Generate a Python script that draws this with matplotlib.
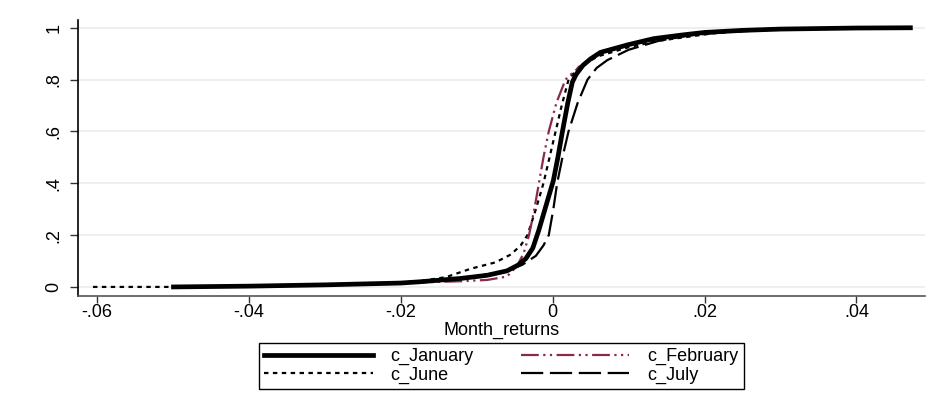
import numpy as np
import matplotlib
matplotlib.use("Agg")
import matplotlib.pyplot as plt

plt.rcParams['font.family'] = ['Liberation Sans', 'DejaVu Sans']

# cumulative shares
jan_x = [-0.0499, -0.040, -0.030, -0.020, -0.0174, -0.012, -0.0086, -0.0060, -0.0045, -0.0035, -0.0026, -0.0018, -0.0009, 0.0001, 0.0007, 0.0013, 0.0020, 0.0026, 0.0031, 0.0040, 0.0050, 0.0063, 0.0100, 0.0133, 0.0170, 0.0200, 0.0250, 0.0300, 0.0400, 0.0471]
jan_y = [0.0, 0.003, 0.008, 0.015, 0.020, 0.033, 0.045, 0.062, 0.085, 0.11, 0.15, 0.22, 0.31, 0.41, 0.50, 0.60, 0.71, 0.79, 0.82, 0.855, 0.88, 0.905, 0.935, 0.958, 0.972, 0.982, 0.990, 0.995, 0.999, 1.0]

feb_x = [-0.0470, -0.035, -0.025, -0.018, -0.012, -0.0086, -0.0060, -0.0047, -0.0038, -0.0031, -0.0024, -0.0018, -0.0012, -0.0005, 0.0005, 0.0017, 0.0024, 0.0040, 0.0063, 0.0100, 0.0140, 0.0180, 0.0220, 0.0300, 0.0400, 0.0460]
feb_y = [0.0, 0.004, 0.010, 0.017, 0.022, 0.027, 0.040, 0.08, 0.13, 0.20, 0.30, 0.40, 0.50, 0.60, 0.71, 0.80, 0.82, 0.86, 0.90, 0.935, 0.96, 0.975, 0.985, 0.995, 0.999, 1.0]

jun_x = [-0.0605, -0.050, -0.045, -0.035, -0.025, -0.018, -0.0140, -0.0108, -0.0075, -0.0055, -0.0042, -0.0033, -0.0022, -0.0012, -0.0004, 0.0004, 0.0012, 0.0021, 0.0035, 0.0060, 0.0100, 0.0140, 0.0170, 0.0210, 0.0260, 0.0320, 0.0400, 0.0450]
jun_y = [0.0, 0.0, 0.002, 0.006, 0.012, 0.020, 0.038, 0.070, 0.095, 0.125, 0.16, 0.20, 0.30, 0.40, 0.50, 0.60, 0.70, 0.80, 0.85, 0.89, 0.925, 0.950, 0.962, 0.978, 0.990, 0.996, 0.999, 1.0]

jul_x = [-0.0480, -0.038, -0.028, -0.020, -0.014, -0.010, -0.0065, -0.0040, -0.0022, -0.0012, -0.0005, 0.0001, 0.0006, 0.0013, 0.0021, 0.0033, 0.0046, 0.0058, 0.0072, 0.0100, 0.0140, 0.0180, 0.0220, 0.0300, 0.0400, 0.0465]
jul_y = [0.0, 0.004, 0.010, 0.017, 0.028, 0.042, 0.058, 0.085, 0.12, 0.16, 0.20, 0.30, 0.40, 0.50, 0.60, 0.71, 0.80, 0.845, 0.875, 0.915, 0.950, 0.970, 0.982, 0.994, 0.999, 1.0]

xticks = [-0.06, -0.04, -0.02, 0.0, 0.02, 0.04]
xlabels = ['-.06', '-.04', '-.02', '0', '.02', '.04']
yticks = [0, 0.2, 0.4, 0.6, 0.8, 1.0]
ylabels = ['0', '.2', '.4', '.6', '.8', '1']

fig = plt.figure(figsize=(9.37, 4.0), dpi=100)
ax = fig.add_axes([0.083, 0.26, 0.904, 0.69])

maroon = '#8b2a48'
ax.plot(jun_x, jun_y, color='black', lw=1.6, ls=(0, (2, 2)), label='c_June')
ax.plot(feb_x, feb_y, color=maroon, lw=1.6, ls=(0, (8, 2, 1, 2, 1, 2)), label='c_February')
ax.plot(jul_x, jul_y, color='black', lw=1.6, ls=(0, (10, 3)), label='c_July')
ax.plot(jan_x, jan_y, color='black', lw=3.4, ls='-', label='c_January')

ax.set_xlim(-0.0625, 0.049)
ax.set_ylim(-0.035, 1.03)
ax.set_xticks(xticks)
ax.set_xticklabels(xlabels, fontsize=13)
ax.set_yticks(yticks)
ax.set_yticklabels(ylabels, fontsize=13, rotation=90, va='center')
ax.tick_params(axis='x', length=5, width=1, color='#333333', pad=1)
ax.tick_params(axis='y', length=6, width=1, color='#333333', pad=5)
ax.yaxis.grid(True, color='#ececec', lw=1.2)
ax.set_axisbelow(True)
for s in ['top', 'right']:
    ax.spines[s].set_visible(False)
ax.spines['left'].set_linewidth(1.2)
ax.spines['bottom'].set_linewidth(1.2)
ax.spines['bottom'].set_color('#555555')
ax.set_xlabel('Month_returns', fontsize=13, labelpad=0)

h, l = ax.get_legend_handles_labels()
order = {'c_January': 0, 'c_June': 1, 'c_February': 2, 'c_July': 3}
pairs = sorted(zip(h, l), key=lambda p: order[p[1]])
leg = fig.legend([p[0] for p in pairs], [p[1] for p in pairs], ncol=2,
                 loc='center', bbox_to_anchor=(0.535, 0.085), fontsize=13,
                 handlelength=6.0, columnspacing=2.6, handletextpad=1.0,
                 labelspacing=0.08, borderpad=0.3, fancybox=False,
                 edgecolor='black', framealpha=1)
leg.get_frame().set_linewidth(1.0)

fig.savefig('out.png', dpi=100, facecolor='white')
